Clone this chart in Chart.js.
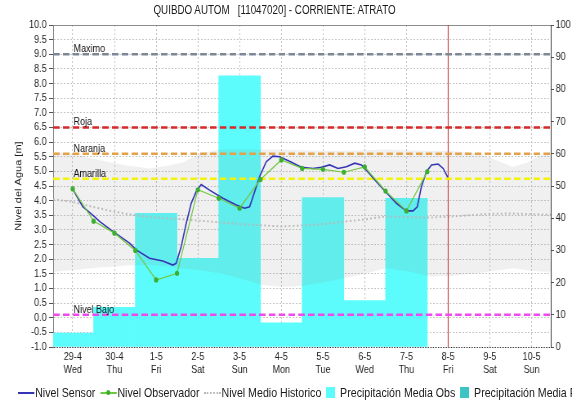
<!DOCTYPE html>
<html>
<head>
<meta charset="utf-8">
<script src="https://cdn.jsdelivr.net/npm/chart.js@4.4.1/dist/chart.umd.min.js"></script>
<style>
  html, body { margin: 0; padding: 0; background: #fff; overflow: hidden; width: 572px; height: 401px; }
  /* el grafico original esta comprimido en horizontal: se dibuja a 700px y se escala */
  #wrap { position: relative; width: 700px; height: 401px; transform: scaleX(0.817143); transform-origin: 0 0;
          font-family: "Liberation Sans", Arial, sans-serif; }
  #titulo { position: absolute; top: 3px; left: 0; width: 672px; text-align: center; font-size: 12px;
            white-space: pre; color: #1a1a1a; }
  #leyenda { position: absolute; top: 385px; left: 22px; display: flex; align-items: center;
             white-space: nowrap; font-size: 13px; color: #1a1a1a; }
  .item { display: flex; align-items: center; margin-right: 6px; }
  .sym { position: relative; width: 20px; height: 12px; margin-right: 1px; }
  .sym .ln { position: absolute; left: 0; right: 0; top: 5px; height: 2px; }
  .sym .dt { position: absolute; left: 0; right: 0; top: 5px; border-top: 2px dotted; }
  .sym .pt { position: absolute; left: 7px; top: 3px; width: 5px; height: 5px; border-radius: 50%; }
  .box { width: 11px; height: 11px; margin-right: 6px; }
</style>
</head>
<body>
<div id="wrap">
  <div id="titulo"></div>
  <canvas id="grafico" width="700" height="401"></canvas>
  <div id="leyenda"></div>
</div>
<script>
// ---- datos ----
const tituloGrafico = 'QUIBDO AUTOM   [11047020] - CORRIENTE: ATRATO';

const dayTicks = [0, 1, 2, 3, 4, 5, 6, 7, 8, 9, 10, 11];
const dayLabels = ['29-4', '30-4', '1-5', '2-5', '3-5', '4-5', '5-5', '6-5', '7-5', '8-5', '9-5', '10-5'];
const weekdayLabels = ['Wed', 'Thu', 'Fri', 'Sat', 'Sun', 'Mon', 'Tue', 'Wed', 'Thu', 'Fri', 'Sat', 'Sun'];
const levelTicks = [-1.0, -0.5, 0.0, 0.5, 1.0, 1.5, 2.0, 2.5, 3.0, 3.5, 4.0, 4.5, 5.0, 5.5,
                    6.0, 6.5, 7.0, 7.5, 8.0, 8.5, 9.0, 9.5, 10.0];
const precipTicks = [0, 10, 20, 30, 40, 50, 60, 70, 80, 90, 100];

const xMin = -0.47;
const xMax = 11.46;
const nowDay = 9;

// Nivel Sensor
const sensorDays = [0.00, 0.24, 0.50, 0.65, 0.97, 1.37, 1.53, 1.84, 2.16, 2.40, 2.48, 2.60, 2.72, 2.84,
                    2.96, 3.08, 3.28, 3.60, 3.92, 4.12, 4.24, 4.32, 4.48, 4.64, 4.80, 4.96, 5.22, 5.48,
                    5.76, 5.96, 6.16, 6.36, 6.56, 6.76, 6.92, 7.00, 7.28, 7.52, 7.76, 8.00, 8.16, 8.26,
                    8.36, 8.48, 8.60, 8.76, 8.88, 8.99];
const sensorLevels = [4.40, 3.79, 3.48, 3.28, 2.94, 2.54, 2.31, 2.03, 1.94, 1.80, 1.86, 2.43, 3.22, 3.91,
                      4.31, 4.55, 4.36, 4.08, 3.85, 3.74, 3.79, 4.13, 4.82, 5.33, 5.52, 5.50, 5.33, 5.14,
                      5.10, 5.14, 5.22, 5.10, 5.16, 5.28, 5.22, 5.10, 4.65, 4.27, 3.91, 3.65, 3.65, 3.79,
                      4.48, 4.99, 5.22, 5.25, 5.10, 4.80];

// Nivel Observador
const obsDays = [0, 0.5, 1, 1.5, 2, 2.5, 3, 3.5, 4, 4.5, 5, 5.5, 6, 6.5, 7, 7.5, 8, 8.5];
const obsLevels = [4.40, 3.30, 2.89, 2.30, 1.29, 1.52, 4.37, 4.08, 3.74, 4.72, 5.39, 5.10, 5.07, 4.97,
                   5.15, 4.33, 3.65, 4.99];

// Nivel Medio Historico
const histDays = [-0.47, 0, 0.5, 1, 1.5, 2, 2.5, 3, 3.5, 4, 4.5, 5, 5.5, 6, 6.5, 7, 7.5, 8, 8.5, 9,
                  9.5, 10, 10.5, 11, 11.46];
const histLevels = [4.05, 3.95, 3.78, 3.62, 3.50, 3.42, 3.38, 3.32, 3.26, 3.20, 3.16, 3.12, 3.15, 3.20,
                    3.28, 3.36, 3.46, 3.44, 3.42, 3.45, 3.50, 3.55, 3.56, 3.54, 3.52];

// banda gris de niveles historicos
const bandDays = [-0.47, 0, 0.65, 1.3, 1.85, 2.3, 2.64, 3.04, 3.5, 4.0, 4.55, 5.0, 5.5, 6.0, 6.5, 7.0,
                  7.5, 8.0, 8.55, 9.0, 9.7, 10.2, 10.55, 10.9, 11.2, 11.46];
const bandUpper = [5.65, 5.60, 5.38, 5.20, 5.10, 5.20, 5.30, 5.60, 5.75, 5.75, 5.75, 5.75, 5.72, 5.70,
                   5.70, 5.72, 5.75, 5.72, 5.70, 5.70, 5.62, 5.35, 5.15, 5.30, 5.55, 5.60];
const bandLower = [1.57, 1.62, 1.72, 1.78, 1.80, 1.75, 1.68, 1.62, 1.53, 1.35, 1.12, 1.06, 1.08, 1.20,
                   1.35, 1.50, 1.69, 1.60, 1.42, 1.42, 1.52, 1.62, 1.69, 1.62, 1.58, 1.57];

// Precipitacion (eje derecho)
const precipDays = [0, 1, 2, 3, 4, 5, 6, 7, 8];
const precipObs = [4.3, 12.3, 41.5, 27.5, 84.2, 7.5, 46.4, 14.4, 46.2];
const precipPron = [];

// umbrales
const thresholdNames = ['Maximo', 'Roja', 'Naranja', 'Amarilla', 'Nivel Bajo'];
const thresholdLevels = [9.0, 6.5, 5.6, 4.75, 0.1];

// ---- estilos ----
const thresholdColors = ['#7d8796', '#d42a2a', '#e3a24a', '#f2f20a', '#ee4bee'];
const colorSensor = '#3434b4';
const colorObs = '#70c840';
const colorObsPunto = '#3aae2e';
const colorHist = '#b9b9b9';
const colorPrecObs = '#5cfcfc';
const colorPrecPron = '#3cc4c4';
const fuente = '"Liberation Sans", Arial, sans-serif';

function puntos(xs, ys) {
  return xs.map((d, i) => ({ x: d, y: ys[i] }));
}

document.getElementById('titulo').textContent = tituloGrafico;

const datasets = [];
datasets.push({
  type: 'bar', label: 'Precipitación Media Obs', yAxisID: 'y1', order: 10,
  data: puntos(precipDays, precipObs), backgroundColor: colorPrecObs, borderWidth: 0,
  grouped: false, barPercentage: 1, categoryPercentage: 1
});
datasets.push({
  type: 'bar', label: 'Precipitación Media Pronosticada', yAxisID: 'y1', order: 9,
  data: puntos(precipDays, precipPron), backgroundColor: colorPrecPron, borderWidth: 0,
  grouped: false, barPercentage: 1, categoryPercentage: 1
});
datasets.push({
  label: 'banda inferior', order: 6, data: puntos(bandDays, bandLower),
  borderWidth: 0, pointRadius: 0, fill: false
});
datasets.push({
  label: 'banda superior', order: 5, data: puntos(bandDays, bandUpper),
  borderWidth: 0, pointRadius: 0, fill: { target: 2 }, backgroundColor: 'rgba(140,140,140,0.13)'
});
datasets.push({
  label: 'Nivel Medio Historico', order: 4, data: puntos(histDays, histLevels),
  borderColor: colorHist, borderWidth: 2, borderDash: [2, 3], pointRadius: 0
});
thresholdNames.forEach((name, i) => {
  datasets.push({
    label: name, order: 3, data: [{ x: xMin, y: thresholdLevels[i] }, { x: xMax, y: thresholdLevels[i] }],
    borderColor: thresholdColors[i], borderWidth: 2.5, borderDash: [8, 4], pointRadius: 0
  });
});
datasets.push({
  label: 'ahora', order: 3, data: [{ x: nowDay, y: -1 }, { x: nowDay, y: 10 }],
  borderColor: '#d03232', borderWidth: 1, pointRadius: 0
});
datasets.push({
  label: 'Nivel Sensor', order: 2, data: puntos(sensorDays, sensorLevels),
  borderColor: colorSensor, borderWidth: 1.6, pointRadius: 0
});
datasets.push({
  label: 'Nivel Observador', order: 1, data: puntos(obsDays, obsLevels),
  borderColor: colorObs, borderWidth: 1.2, pointRadius: 2.6, pointBorderWidth: 0,
  pointBackgroundColor: colorObsPunto
});

// etiquetas de los umbrales sobre cada linea
const etiquetasUmbral = {
  id: 'etiquetasUmbral',
  afterDatasetsDraw(chart) {
    const { ctx, scales: { x, y } } = chart;
    ctx.save();
    ctx.font = '11px ' + fuente;
    ctx.fillStyle = '#111';
    ctx.textBaseline = 'alphabetic';
    thresholdNames.forEach((name, i) => {
      ctx.fillText(name, x.getPixelForValue(0) + 1, y.getPixelForValue(thresholdLevels[i]) - 2);
    });
    ctx.restore();
  }
};

Chart.defaults.font.family = fuente;
Chart.defaults.font.size = 11;
Chart.defaults.color = '#222';

new Chart(document.getElementById('grafico'), {
  type: 'line',
  data: { datasets: datasets },
  plugins: [etiquetasUmbral],
  options: {
    responsive: false,
    animation: false,
    events: [],
    layout: { padding: { top: 25, left: 0, right: 0, bottom: 0 } },
    plugins: { legend: { display: false }, tooltip: { enabled: false } },
    scales: {
      x: {
        type: 'linear', min: xMin, max: xMax, offset: false,
        afterBuildTicks: s => { s.ticks = dayTicks.map(v => ({ value: v })); },
        afterFit: s => { s.height = 54; },
        ticks: {
          autoSkip: false, maxRotation: 0, padding: 3,
          callback: (v, i) => [dayLabels[i], weekdayLabels[i]]
        },
        grid: { color: '#c4c4c4', drawTicks: false, offset: false },
        border: { display: false, dash: [2, 2] }
      },
      y: {
        position: 'left', min: -1, max: 10,
        afterBuildTicks: s => { s.ticks = levelTicks.map(v => ({ value: v })); },
        afterFit: s => { s.width = 65; },
        ticks: { autoSkip: false, padding: 3, callback: v => v.toFixed(1) },
        grid: {
          color: c => c.tick && c.tick.value === 10 ? '#8c8c8c' : (c.tick && c.tick.value === -1 ? '#303030' : '#c4c4c4'),
          tickLength: 5, tickColor: '#555', tickBorderDash: []
        },
        border: {
          color: '#808080',
          dash: c => c.tick && c.tick.value === 10 ? [] : (c.tick && c.tick.value === -1 ? [1, 1] : [2, 2])
        },
        title: { display: true, text: 'Nivel del Agua [m]', padding: { top: 16, bottom: 0 } }
      },
      y1: {
        position: 'right', min: 0, max: 100,
        afterBuildTicks: s => { s.ticks = precipTicks.map(v => ({ value: v })); },
        afterFit: s => { s.width = 26; },
        ticks: { autoSkip: false, padding: 2 },
        grid: { drawOnChartArea: false, tickLength: 4, tickColor: '#555' },
        border: { color: '#404040' }
      }
    }
  }
});

// leyenda en html (una sola linea, recortada por la derecha como en el original)
const legendEntries = [
  { text: 'Nivel Sensor', symbol: 'line', color: colorSensor },
  { text: 'Nivel Observador', symbol: 'marker', color: colorObs },
  { text: 'Nivel Medio Historico', symbol: 'dots', color: colorHist },
  { text: 'Precipitación Media Obs', symbol: 'box', color: colorPrecObs },
  { text: 'Precipitación Media Pronosticada', symbol: 'box', color: colorPrecPron }
];
const leyenda = document.getElementById('leyenda');
legendEntries.forEach(e => {
  const item = document.createElement('span');
  item.className = 'item';
  let sym;
  if (e.symbol === 'box') {
    sym = document.createElement('span');
    sym.className = 'box';
    sym.style.background = e.color;
  } else {
    sym = document.createElement('span');
    sym.className = 'sym';
    const ln = document.createElement('span');
    if (e.symbol === 'dots') {
      ln.className = 'dt';
      ln.style.borderColor = e.color;
    } else {
      ln.className = 'ln';
      ln.style.background = e.color;
    }
    sym.appendChild(ln);
    if (e.symbol === 'marker') {
      const pt = document.createElement('span');
      pt.className = 'pt';
      pt.style.background = colorObsPunto;
      sym.appendChild(pt);
    }
  }
  const txt = document.createElement('span');
  txt.textContent = e.text;
  item.appendChild(sym);
  item.appendChild(txt);
  leyenda.appendChild(item);
});
</script>
</body>
</html>
